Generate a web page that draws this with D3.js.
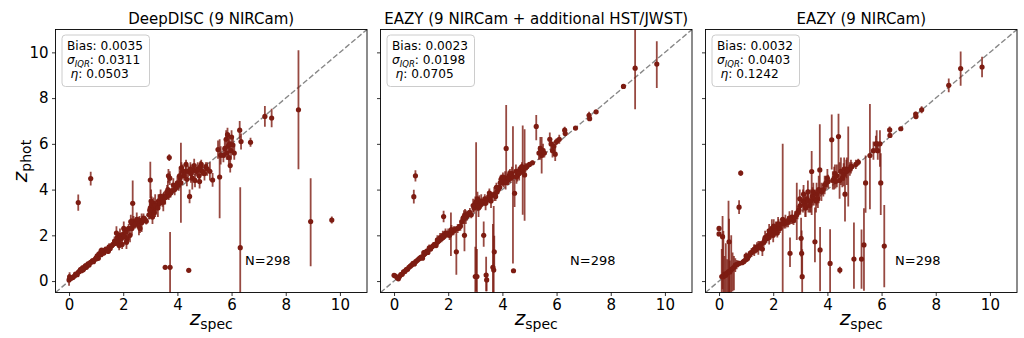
<!DOCTYPE html>
<html><head><meta charset="utf-8">
<script src="https://cdn.jsdelivr.net/npm/d3@7"></script>
<style>
body{margin:0;background:#fff}
svg{display:block}
text{font-family:"DejaVu Sans",sans-serif;fill:#000}
</style>
</head><body>
<svg id="c" width="1024" height="338"></svg>
<script>
// ---------- data ----------
const titles = ["DeepDISC (9 NIRCam)", "EAZY (9 NIRCam + additional HST/JWST)", "EAZY (9 NIRCam)"];
const biasVals = ["0.0035", "0.0023", "0.0032"];
const sigmaVals = ["0.0311", "0.0198", "0.0403"];
const etaVals = ["0.0503", "0.0705", "0.1242"];
const nLabel = "N=298";
const xTicks = [0, 2, 4, 6, 8, 10];
const yTicks = [0, 2, 4, 6, 8, 10];
const xDomain = [-0.5, 11];
const yDomain = [-0.5, 11];

// rows: [z_spec, z_phot, err_low, err_high]
const deepdisc = [
[0.00,0.05,0.25,0.25],[0.02,0.18,0.2,0.2],[0.08,0.12,0.06,0.06],[0.14,0.16,0.05,0.05],[0.2,0.22,0.06,0.06],
[0.24,0.3,0.08,0.08],[0.3,0.28,0.06,0.06],[0.34,0.38,0.1,0.1],[0.38,0.42,0.08,0.08],[0.42,0.5,0.12,0.12],
[0.46,0.45,0.06,0.06],[0.5,0.58,0.1,0.1],[0.55,0.55,0.08,0.08],[0.6,0.66,0.12,0.12],[0.64,0.6,0.08,0.08],
[0.7,0.75,0.1,0.1],[0.74,0.7,0.1,0.1],[0.8,0.82,0.08,0.08],[0.86,0.88,0.12,0.12],[0.9,0.85,0.06,0.06],
[0.96,0.95,0.08,0.08],[1.0,1.02,0.1,0.1],[1.04,1.1,0.15,0.15],[1.08,1.0,0.08,0.08],[1.12,1.2,0.18,0.18],
[1.18,1.15,0.1,0.1],[1.22,1.28,0.12,0.12],[1.28,1.22,0.1,0.1],[1.32,1.35,0.15,0.15],[1.38,1.4,0.1,0.1],
[1.42,1.32,0.12,0.12],[1.48,1.5,0.15,0.15],[1.52,1.42,0.1,0.1],[1.58,1.55,0.12,0.12],[1.62,1.6,0.15,0.15],
[1.68,1.75,0.2,0.2],[1.72,1.65,0.12,0.12],[1.78,1.9,0.25,0.25],[1.82,1.7,0.2,0.2],[1.88,2.0,0.3,0.3],
[1.92,1.85,0.15,0.15],[1.96,1.6,0.2,0.2],[2.0,2.05,0.25,0.25],[2.05,1.95,0.2,0.2],[2.1,2.15,0.2,0.2],
[2.15,1.85,0.25,0.25],[2.2,2.3,0.2,0.2],[2.3,2.55,0.2,0.2],[2.32,2.3,0.3,0.3],[2.35,3.4,1.0,1.0],
[2.38,2.6,0.25,0.25],[2.4,2.45,0.15,0.15],[2.45,2.5,0.2,0.2],[2.55,2.6,0.15,0.15],[2.6,2.65,0.2,0.2],
[2.62,2.3,0.2,0.2],[2.68,2.55,0.4,0.4],[2.72,2.65,0.1,0.1],[2.8,2.7,0.15,0.15],[2.85,2.62,0.15,0.15],
[2.95,2.9,0.2,0.2],[3.0,4.42,0.8,0.8],[3.0,3.2,0.3,0.3],[3.02,3.0,0.15,0.15],[3.05,3.3,0.4,0.4],
[3.08,2.8,0.3,0.3],[3.1,3.1,0.2,0.2],[3.12,3.4,0.25,0.25],[3.15,3.0,0.2,0.2],[3.2,3.2,0.3,0.3],
[3.25,3.3,0.2,0.2],[3.3,3.5,0.3,0.3],[3.35,3.4,0.15,0.15],[3.4,3.6,0.2,0.2],[3.45,3.5,0.25,0.25],
[3.5,3.7,0.2,0.2],[3.55,3.65,0.3,0.3],[3.6,3.7,0.15,0.15],[3.65,4.0,0.4,0.4],[3.68,3.75,0.2,0.2],
[3.7,5.4,0.15,0.15],[3.72,4.5,0.3,0.3],[3.75,3.85,0.2,0.2],[3.8,3.95,0.15,0.15],[3.55,0.6,0.05,0.05],
[3.73,0.6,1.5,1.55],[3.9,4.0,0.25,0.25],[3.95,4.1,0.15,0.15],[4.0,4.3,0.3,0.3],[4.05,4.2,0.25,0.25],
[4.1,4.5,0.3,0.3],[4.13,4.3,1.75,1.75],[4.2,4.8,0.3,0.3],[4.25,4.6,0.2,0.2],[4.3,4.8,0.2,0.2],
[4.35,4.45,0.3,0.3],[4.4,4.8,0.25,0.25],[4.45,3.7,0.3,0.3],[4.5,4.7,0.4,0.4],[4.55,4.5,0.5,0.5],
[4.6,4.85,0.2,0.2],[4.65,4.4,0.3,0.3],[4.7,4.8,0.2,0.2],[4.75,4.9,0.3,0.3],[4.8,4.6,0.3,0.3],
[4.82,4.35,0.3,0.3],[4.85,5.0,0.25,0.25],[4.9,4.8,0.2,0.2],[4.95,4.75,0.15,0.15],[5.05,5.0,0.2,0.2],
[5.1,4.9,0.3,0.3],[5.2,4.8,0.4,0.4],[4.42,0.47,0.05,0.05],[5.3,4.42,0.3,0.3],[5.5,5.75,0.4,0.4],
[5.56,4.55,1.8,1.65],[5.6,5.5,0.4,0.4],[5.7,5.5,0.3,0.3],[5.75,5.8,0.4,0.4],[5.8,6.2,0.4,0.4],
[5.82,5.6,0.3,0.3],[5.85,6.4,0.3,0.3],[5.88,5.9,0.5,0.5],[5.9,5.4,0.3,0.3],[5.92,6.0,0.3,0.3],
[5.95,5.05,0.3,0.3],[5.98,5.7,0.4,0.4],[6.0,6.3,0.3,0.3],[6.05,5.95,0.3,0.3],[6.1,5.6,0.3,0.3],
[6.3,6.6,0.4,0.4],[6.35,6.1,0.35,0.35],[6.32,1.46,2.7,2.64],[6.7,6.07,0.2,0.2],[7.23,7.2,0.45,0.45],
[7.48,7.13,0.4,0.4],[8.47,7.49,2.6,2.6],[8.92,2.6,1.95,1.9],[9.7,2.67,0.15,0.15],[0.34,3.43,0.35,0.35],
[0.8,4.48,0.3,0.3],
[1.75,2.1,0.3,0.3],[1.85,1.55,0.2,0.2],[2.02,2.3,0.3,0.3],[2.12,1.7,0.3,0.3],[2.25,2.0,0.3,0.3],
[2.28,2.6,0.3,0.3],[2.5,2.7,0.3,0.3],[2.58,2.4,0.4,0.4],[2.75,2.75,0.2,0.2],[2.98,3.1,0.4,0.4],
[3.03,3.5,0.5,0.5],[3.18,3.3,0.5,0.5],[3.28,3.2,0.4,0.4],[3.38,3.7,0.3,0.3],[3.48,3.45,0.4,0.4],
[3.62,3.9,0.3,0.3],[3.67,4.6,0.3,0.3],[3.85,4.2,0.3,0.3],[4.08,4.6,0.4,0.4],[4.15,4.95,0.25,0.25],
[4.32,5.1,0.2,0.2],[4.48,4.9,0.3,0.3],[4.62,5.05,0.3,0.3],[4.88,5.1,0.2,0.2],[5.0,4.7,0.3,0.3],
[1.2,1.35,0.1,0.1],[1.45,1.3,0.1,0.1],[0.52,0.5,0.05,0.05],[0.78,0.8,0.1,0.1],[1.02,0.98,0.1,0.1]
];

const eazyPlus = [
[0.0,0.25,0.05,0.05],[0.05,0.22,0.05,0.05],[0.12,0.15,0.05,0.05],[0.16,0.1,0.05,0.05],[0.2,0.2,0.05,0.05],
[0.25,0.28,0.06,0.06],[0.3,0.3,0.05,0.05],[0.35,0.4,0.08,0.08],[0.4,0.42,0.06,0.06],[0.45,0.5,0.08,0.08],
[0.5,0.52,0.06,0.06],[0.55,0.6,0.1,0.1],[0.6,0.65,0.08,0.08],[0.65,0.7,0.1,0.1],[0.7,0.77,0.08,0.08],
[0.75,0.75,0.1,0.1],[0.8,0.85,0.08,0.08],[0.85,0.9,0.1,0.1],[0.9,0.95,0.08,0.08],[0.95,1.0,0.1,0.1],
[1.0,1.05,0.1,0.1],[1.05,1.0,0.08,0.08],[1.1,1.15,0.15,0.15],[1.15,1.2,0.1,0.1],[1.2,1.3,0.12,0.12],
[1.25,1.25,0.1,0.1],[1.3,1.45,0.15,0.15],[1.35,1.4,0.1,0.1],[1.4,1.5,0.12,0.12],[1.45,1.55,0.15,0.15],
[1.5,1.6,0.1,0.1],[1.55,1.55,0.1,0.1],[1.6,1.7,0.15,0.15],[1.65,1.75,0.1,0.1],[1.7,1.9,0.2,0.2],
[1.75,1.85,0.15,0.15],[1.8,2.0,0.2,0.2],[1.83,2.82,0.25,0.25],[1.85,1.95,0.15,0.15],[1.9,2.1,0.2,0.2],
[1.95,2.05,0.15,0.15],[2.0,2.1,0.2,0.2],[2.05,2.0,0.2,0.2],[2.1,2.1,1.0,0.9],[2.15,2.15,0.15,0.15],
[2.2,2.2,0.2,0.2],[2.25,2.25,0.15,0.15],[2.3,1.28,1.0,0.9],[2.35,2.3,0.2,0.2],[2.4,2.35,0.15,0.15],
[2.45,2.4,0.2,0.2],[2.55,2.75,0.2,0.2],[2.6,2.0,0.7,0.8],[2.62,2.9,0.25,0.25],[2.65,2.8,0.3,0.3],
[2.7,2.85,0.2,0.2],[2.75,2.95,0.15,0.15],[2.8,3.0,0.2,0.2],[2.85,2.9,0.15,0.15],[2.95,3.2,0.2,0.2],
[3.0,3.4,0.3,0.3],[3.03,3.47,3.9,2.6],[3.0,0.2,1.0,1.3],[3.06,0.2,1.0,1.2],[3.1,3.3,0.2,0.2],
[3.15,3.5,0.25,0.25],[3.2,3.35,0.2,0.2],[3.25,3.4,0.15,0.15],[3.31,2.0,0.5,0.6],[3.35,3.6,0.2,0.2],
[3.4,0.26,0.7,0.8],[3.42,0.05,0.5,0.3],[3.45,3.55,0.2,0.2],[3.5,3.7,0.25,0.25],[3.55,3.65,0.2,0.2],
[3.6,3.75,0.15,0.15],[3.65,0.6,1.5,1.9],[3.68,0.48,1.5,2.8],[3.7,1.28,0.8,0.7],[3.7,3.8,0.3,0.3],
[3.75,3.7,0.2,0.2],[3.8,3.9,0.15,0.15],[3.85,4.0,0.2,0.2],[3.9,4.1,0.15,0.15],[3.95,4.45,0.2,0.2],
[4.0,4.4,0.25,0.25],[4.05,4.3,0.2,0.2],[4.1,4.5,0.3,0.3],[4.14,5.8,1.45,1.9],[4.2,4.4,0.2,0.2],
[4.25,4.6,0.25,0.25],[4.3,4.5,0.2,0.2],[4.35,4.7,0.3,0.3],[4.39,4.57,3.8,2.2],[4.41,0.45,0.08,0.08],
[4.45,3.84,0.6,0.6],[4.5,4.8,0.3,0.3],[4.55,4.6,0.25,0.25],[4.6,4.8,0.2,0.2],[4.65,4.9,0.15,0.15],
[4.7,4.85,0.2,0.2],[4.75,4.8,1.9,2.0],[4.82,4.64,2.0,2.0],[4.85,4.95,0.2,0.2],[4.9,5.0,0.15,0.15],
[5.0,5.1,0.1,0.1],[5.11,5.17,0.1,0.1],[5.25,6.76,0.6,0.5],[5.35,5.6,0.3,0.3],[5.4,5.8,0.5,0.5],
[5.45,5.5,0.8,0.8],[5.5,5.7,0.3,0.3],[5.55,5.6,0.2,0.2],[5.75,6.2,0.3,0.3],[5.8,6.0,0.2,0.2],
[5.85,5.7,0.3,0.3],[5.9,5.9,0.2,0.2],[5.95,5.55,0.3,0.3],[6.0,6.1,0.15,0.15],[6.1,6.2,0.2,0.2],
[6.3,6.6,0.15,0.15],[6.32,6.45,0.1,0.1],[6.7,6.69,0.08,0.08],[7.2,7.25,0.15,0.15],[7.22,7.1,0.1,0.1],
[7.46,7.4,0.08,0.08],[8.47,8.51,0.08,0.08],[8.9,9.31,1.8,2.5],[9.7,9.49,1.05,1.0],[0.73,3.69,0.3,0.3],
[0.79,4.6,0.25,0.25],
[2.92,3.3,0.3,0.3],[3.08,3.6,0.3,0.3],[3.12,3.2,0.4,0.4],[3.22,3.5,0.3,0.3],[3.38,3.4,0.3,0.3],
[3.52,3.85,0.2,0.2],[3.58,3.5,0.3,0.3],[3.78,4.1,0.2,0.2],[3.92,4.3,0.3,0.3],[4.02,4.55,0.2,0.2],
[4.12,4.3,0.3,0.3],[4.22,4.5,0.3,0.3],[4.28,4.7,0.2,0.2],[4.52,4.55,0.3,0.3],[4.62,4.7,0.3,0.3],
[4.72,5.0,0.2,0.2],[2.5,2.6,0.2,0.2],[2.58,2.8,0.3,0.3],[1.1,1.25,0.1,0.1],[1.6,1.8,0.2,0.2],
[2.12,2.25,0.2,0.2]
];

const eazy = [
[0.0,2.3,0.1,0.1],[0.0,2.06,0.1,0.1],[0.13,1.94,2.3,0.9],[0.1,0.2,1.0,1.2],[0.16,0.19,1.0,2.0],
[0.2,0.3,1.0,0.8],[0.25,0.25,0.9,1.4],[0.3,0.35,1.0,0.6],[0.35,0.41,1.0,3.1],[0.37,1.72,2.3,1.0],
[0.4,0.4,1.0,0.5],[0.45,0.5,1.0,1.5],[0.5,0.55,1.0,0.7],[0.55,0.6,1.0,0.5],[0.6,0.7,0.3,0.3],
[0.65,0.72,0.2,0.2],[0.7,0.75,0.15,0.15],[0.75,0.78,0.1,0.1],[0.85,0.8,0.1,0.1],[0.9,0.85,0.1,0.1],
[0.95,0.9,0.15,0.15],[1.0,0.95,0.1,0.1],[1.05,1.0,0.15,0.15],[1.1,1.1,0.2,0.2],[1.15,1.2,0.15,0.15],
[1.2,1.25,0.2,0.2],[1.25,1.3,0.15,0.15],[1.3,1.4,0.2,0.2],[1.35,1.35,0.15,0.15],[1.4,1.5,0.2,0.2],
[1.45,1.45,0.3,0.3],[1.5,1.55,0.2,0.2],[1.55,1.6,0.15,0.15],[1.6,1.4,0.3,0.3],[1.65,1.7,0.2,0.2],
[1.7,1.9,0.3,0.3],[1.75,1.85,0.2,0.2],[1.8,2.0,0.25,0.25],[1.85,1.9,0.3,0.3],[1.9,2.1,0.2,0.2],
[1.95,2.3,0.4,0.4],[2.0,2.0,0.3,0.3],[2.05,2.2,0.2,0.2],[2.1,2.3,0.3,0.3],[2.15,2.1,0.2,0.2],
[2.2,2.4,0.3,0.3],[2.25,2.3,0.2,0.2],[2.3,2.5,0.25,0.25],[0.74,3.23,0.3,0.3],[0.8,4.72,0.12,0.12],
[2.35,2.7,3.5,3.3],[2.4,2.5,0.2,0.2],[2.45,2.6,0.3,0.3],[2.5,2.55,0.2,0.2],[2.55,2.6,0.25,0.25],
[2.62,1.21,0.6,0.7],[2.65,2.7,0.2,0.2],[2.7,2.8,0.3,0.3],[2.75,2.65,0.2,0.2],[2.8,2.8,0.25,0.25],
[2.87,2.9,1.1,1.4],[2.9,3.0,0.3,0.3],[2.95,3.1,0.2,0.2],[3.0,3.3,0.4,0.4],[3.03,1.87,0.8,0.9],
[3.05,1.21,1.0,1.0],[3.07,0.19,1.0,1.2],[3.1,3.5,0.5,0.5],[3.15,3.4,0.3,0.3],[3.2,3.2,0.4,0.4],
[3.25,3.6,0.3,0.3],[3.3,3.5,0.5,0.5],[3.35,3.3,0.3,0.3],[3.42,4.79,1.9,0.9],[3.45,3.7,0.4,0.4],
[3.5,3.6,0.3,0.3],[3.54,1.72,0.9,1.5],[3.6,3.8,0.5,0.5],[3.65,3.6,0.4,0.4],[3.72,4.86,1.2,2.0],
[3.73,1.36,1.8,1.0],[3.78,3.9,0.4,0.4],[3.85,4.0,0.3,0.3],[3.9,4.2,0.4,0.4],[3.95,4.3,0.3,0.3],
[4.03,4.35,0.3,0.3],[4.1,0.77,1.3,1.5],[4.16,6.18,1.3,1.1],[4.2,4.4,0.4,0.4],[4.25,4.5,0.5,0.5],
[4.3,4.35,0.3,0.3],[4.35,4.6,0.5,0.5],[4.41,6.32,1.6,1.0],[4.46,0.48,0.15,0.15],[4.5,4.8,0.6,0.6],
[4.55,4.5,0.4,0.4],[4.6,4.65,0.5,0.5],[4.65,3.8,1.2,1.0],[4.7,4.9,0.4,0.4],[4.77,4.86,1.6,1.9],
[4.83,4.9,0.3,0.3],[4.9,5.0,0.2,0.2],[4.98,0.96,1.3,1.6],[5.05,5.1,0.2,0.2],[5.14,5.2,0.15,0.15],
[5.26,0.96,1.3,1.3],[5.35,1.58,2.0,1.6],[5.41,4.29,1.3,1.2],[5.57,5.49,2.35,2.25],[5.7,5.7,0.4,0.4],
[5.79,6.0,0.3,0.35],[5.82,6.0,0.4,0.6],[5.86,5.7,0.4,0.4],[5.94,6.0,1.0,0.6],[5.97,4.29,1.4,1.3],
[6.1,1.53,1.8,1.8],[6.3,6.61,0.15,0.15],[6.31,6.37,0.1,0.1],[6.71,6.66,0.06,0.06],[7.26,7.3,0.1,0.1],
[7.27,7.2,0.12,0.12],[7.48,7.49,0.15,0.15],[8.48,8.56,0.3,0.3],[8.92,9.29,0.75,0.75],[9.71,9.36,0.45,0.45],
[1.0,1.1,0.15,0.15],[1.3,1.35,0.25,0.25],[1.68,1.8,0.2,0.2],[1.85,2.2,0.3,0.3],[2.02,2.4,0.3,0.3],
[2.18,2.5,0.3,0.3],[2.6,2.75,0.3,0.3],[2.98,3.6,0.4,0.4],[3.12,3.8,0.4,0.4],[3.18,3.3,0.5,0.5],
[3.28,3.9,0.5,0.5],[3.38,3.5,0.5,0.5],[3.48,3.9,0.4,0.4],[3.58,3.5,0.5,0.5],[3.68,4.0,0.6,0.6],
[4.0,4.5,0.4,0.4],[4.28,4.7,0.4,0.4],[4.45,4.4,0.8,0.8],[4.62,4.9,0.5,0.5],[4.72,4.8,0.6,0.6],
[4.87,5.0,0.3,0.3]
];

const panelsData = [deepdisc, eazyPlus, eazy];

// ---------- layout ----------
const svg = d3.select("#c");
const panelLefts = [55.5, 380.5, 705.5];
const panelW = 311.5;
const plotTop = 29.5, plotBottom = 292.5;
const pointColor = "#7d1c12";
let boxFont = null;

panelLefts.forEach((left, i) => {
  const x = d3.scaleLinear().domain(xDomain).range([left, left + panelW]);
  const y = d3.scaleLinear().domain(yDomain).range([plotBottom, plotTop]);
  const g = svg.append("g");
  const clipId = "clip" + i;
  svg.append("clipPath").attr("id", clipId).append("rect")
    .attr("x", left).attr("y", plotTop).attr("width", panelW).attr("height", plotBottom - plotTop);

  const xAxis = g.append("g").attr("transform", `translate(0,${plotBottom})`)
    .call(d3.axisBottom(x).tickValues(xTicks).tickSize(3.5).tickPadding(3.5));
  const yAxis = g.append("g").attr("transform", `translate(${left},0)`)
    .call(d3.axisLeft(y).tickValues(yTicks).tickSize(3.5).tickPadding(3.5)
      .tickFormat(i === 0 ? d3.format("d") : () => ""));
  [xAxis, yAxis].forEach(a => {
    a.select(".domain").remove();
    a.selectAll("line").attr("stroke", "#000").attr("stroke-width", 0.8);
    a.selectAll("text").style("font-family", "DejaVu Sans").style("font-size", "15px").attr("fill", "#000");
  });

  const plot = g.append("g").attr("clip-path", `url(#${clipId})`);
  plot.append("line")
    .attr("x1", x(-0.5)).attr("y1", y(-0.5)).attr("x2", x(11)).attr("y2", y(11))
    .attr("stroke", "#888").attr("stroke-width", 1.4).attr("stroke-dasharray", "5.5,2.4");

  const data = panelsData[i];
  plot.selectAll("line.err").data(data).join("line").attr("class", "err")
    .attr("x1", d => x(d[0])).attr("x2", d => x(d[0]))
    .attr("y1", d => y(d[1] - d[2])).attr("y2", d => y(d[1] + d[3]))
    .attr("stroke", pointColor).attr("stroke-opacity", 0.8).attr("stroke-width", 1.8);
  plot.selectAll("circle").data(data).join("circle")
    .attr("cx", d => x(d[0])).attr("cy", d => y(d[1])).attr("r", 2.6)
    .attr("fill", pointColor);

  g.append("rect").attr("x", left).attr("y", plotTop).attr("width", panelW).attr("height", plotBottom - plotTop)
    .attr("fill", "none").attr("stroke", "#000").attr("stroke-width", 0.9);

  g.append("text").attr("x", left + panelW / 2).attr("y", 23.5).attr("text-anchor", "middle")
    .style("font-size", "15px").text(titles[i]);

  const bx = left + 6.5, by = 35;
  g.append("rect").attr("x", bx).attr("y", by).attr("width", 87.5).attr("height", 51.5)
    .attr("rx", 3.5).attr("fill", "#fff").attr("fill-opacity", 0.8).attr("stroke", "#ccc").attr("stroke-width", 1);
  const tx = bx + 5;
  const t1 = g.append("text").attr("x", tx).attr("y", 49.5).style("font-size", "12px").text("Bias: " + biasVals[i]);
  if (boxFont === null) {
    const w = t1.node().getComputedTextLength();
    boxFont = (w > 0) ? Math.max(11, Math.min(14, 12 * 76 / w)) : 12;
  }
  t1.style("font-size", boxFont + "px");
  const t2 = g.append("text").attr("x", tx).attr("y", 64).style("font-size", boxFont + "px");
  t2.append("tspan").style("font-style", "italic").text("σ");
  t2.append("tspan").style("font-style", "italic").style("font-size", (boxFont * 0.7) + "px").attr("dy", 2.5).text("IQR");
  t2.append("tspan").attr("dy", -2.5).text(": " + sigmaVals[i]);
  const t3 = g.append("text").attr("x", tx + 3.5).attr("y", 78).style("font-size", boxFont + "px");
  t3.append("tspan").style("font-style", "italic").text("η");
  t3.append("tspan").text(": " + etaVals[i]);

  g.append("text").attr("x", x(6.5)).attr("y", y(0.9) + 5).style("font-size", "13px").text(nLabel);

  const xl = g.append("text").attr("x", left + panelW / 2).attr("y", 325).attr("text-anchor", "middle");
  xl.append("tspan").style("font-style", "italic").style("font-size", "20px").text("z");
  xl.append("tspan").style("font-size", "14px").attr("dy", 3.5).text("spec");
});

const yl = svg.append("text").attr("transform", "translate(27,161) rotate(-90)").attr("text-anchor", "middle");
yl.append("tspan").style("font-style", "italic").style("font-size", "20px").text("z");
yl.append("tspan").style("font-size", "14px").attr("dy", 3.5).text("phot");
</script>
</body></html>
